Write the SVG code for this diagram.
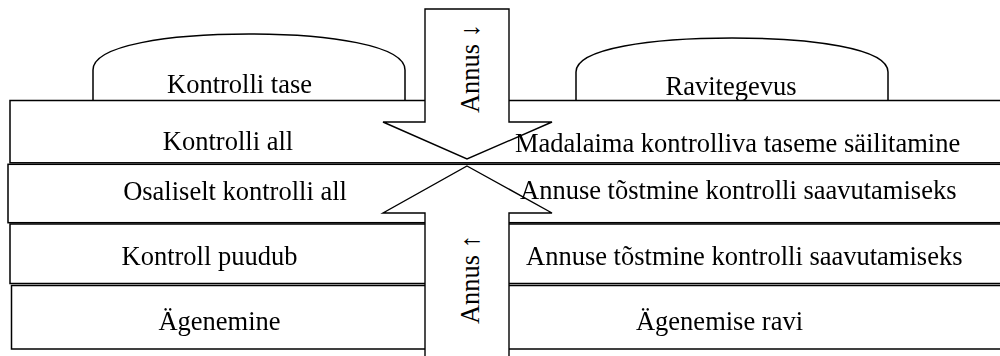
<svg xmlns="http://www.w3.org/2000/svg" width="1000" height="356" viewBox="0 0 1000 356">
<style>
.ln{fill:none;stroke:#000;stroke-width:1.5}
.ar{fill:#fff;stroke:#000;stroke-width:1.4;stroke-linejoin:miter}
.t{font-family:"Liberation Serif","Times New Roman",serif;font-size:26.5px;fill:#000}
.m{text-anchor:middle}
</style>
<defs>
<mask id="shaftMask" maskUnits="userSpaceOnUse" x="0" y="0" width="1000" height="356">
<rect x="0" y="0" width="1000" height="356" fill="#fff"/>
<rect x="425" y="0" width="84" height="122" fill="#000"/>
<rect x="425" y="213" width="84" height="150" fill="#000"/>
</mask>
</defs>
<rect width="1000" height="356" fill="#fff"/>

<g id="connectors">
<g id="arrow-down">
<polygon class="ar" points="425,9 509,9 509,122 552,122 467,159 383,122 425,122"/>
<text class="t m" transform="translate(479,68.5) rotate(-90)">Annus ↓</text>
</g>
<g id="arrow-up">
<polygon class="ar" points="467,166 552,213 509,213 509,362 425,362 425,213 383,213"/>
<text class="t m" transform="translate(479,279.5) rotate(-90)">Annus ↑</text>
</g>
</g>

<g mask="url(#shaftMask)">
<g id="tab-level">
<path class="ln" d="M93,100 V70 C93,45 170,34 249,34 C328,34 405,45 405,70 V100"/>
<text class="t m" x="239.5" y="93">Kontrolli tase</text>
</g>
<g id="tab-treatment">
<path class="ln" d="M576,100 V72 C576,48 653,38 732,38 C811,38 888,48 888,72 V100"/>
<text class="t m" x="731" y="95">Ravitegevus</text>
</g>
<g id="row-controlled">
<rect class="ln" x="10" y="100.5" width="1000" height="62.3"/>
<text class="t m" x="228" y="150">Kontrolli all</text>
<text class="t" x="515" y="152">Madalaima kontrolliva taseme säilitamine</text>
</g>
<g id="row-partial">
<rect class="ln" x="8" y="164.3" width="1000" height="58.4"/>
<text class="t m" x="235" y="200">Osaliselt kontrolli all</text>
<text class="t" x="520" y="199">Annuse tõstmine kontrolli saavutamiseks</text>
</g>
<g id="row-uncontrolled">
<rect class="ln" x="10" y="224" width="1000" height="59.5"/>
<text class="t m" x="209.5" y="265">Kontroll puudub</text>
<text class="t" x="526" y="265">Annuse tõstmine kontrolli saavutamiseks</text>
</g>
<g id="row-exacerbation">
<rect class="ln" x="11.5" y="285.5" width="1000" height="63.5"/>
<text class="t m" x="219.5" y="330">Ägenemine</text>
<text class="t m" x="719.5" y="330">Ägenemise ravi</text>
</g>
</g>
</svg>
